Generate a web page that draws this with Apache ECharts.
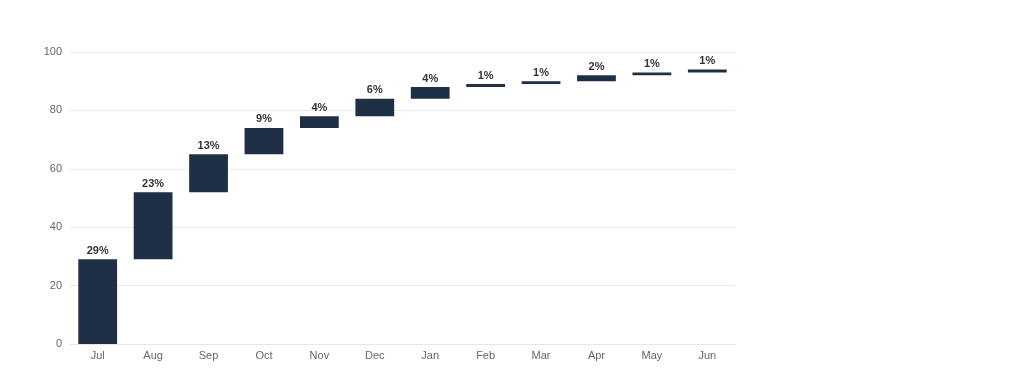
<!DOCTYPE html>
<html><head><meta charset="utf-8">
<script src="https://cdn.jsdelivr.net/npm/echarts@6/dist/echarts.min.js"></script>
<style>html,body{margin:0;padding:0;background:#fff}#c{width:1024px;height:389px}</style>
</head><body><div id="c"></div>
<script>
const categories = ['Jul','Aug','Sep','Oct','Nov','Dec','Jan','Feb','Mar','Apr','May','Jun'];
const increments = [29,23,13,9,4,6,4,1,1,2,1,1];
const yTicks = [0,20,40,60,80,100];

const bases = [];
let run = 0;
for (const v of increments) { bases.push(run); run += v; }

const chart = echarts.init(document.getElementById('c'));
chart.setOption({
  animation: false,
  grid: { left: 70, right: 289, top: 52, bottom: 45 },
  xAxis: {
    type: 'category', data: categories,
    axisLine: { show: true, lineStyle: { color: '#e6e6e6' } },
    axisTick: { show: false },
    axisLabel: { color: '#666', fontSize: 11, fontFamily: 'Liberation Sans, sans-serif', margin: 6 }
  },
  yAxis: {
    type: 'value', min: yTicks[0], max: yTicks[yTicks.length-1], interval: 20,
    axisLine: { show: false }, axisTick: { show: false },
    splitLine: { lineStyle: { color: '#ebebeb' } },
    axisLabel: { color: '#666', fontSize: 11, fontFamily: 'Liberation Sans, sans-serif', margin: 8 }
  },
  series: [
    { type: 'bar', stack: 'w', data: bases, itemStyle: { color: 'transparent' }, barWidth: '70%', silent: true },
    { type: 'bar', stack: 'w', data: increments, barWidth: '70%',
      itemStyle: { color: '#1e2f46' },
      label: { show: true, position: 'top', formatter: p => p.value + '%', color: '#333', fontSize: 11, fontWeight: 'bold', fontFamily: 'Liberation Sans, sans-serif', distance: 3 } }
  ]
});
</script></body></html>
